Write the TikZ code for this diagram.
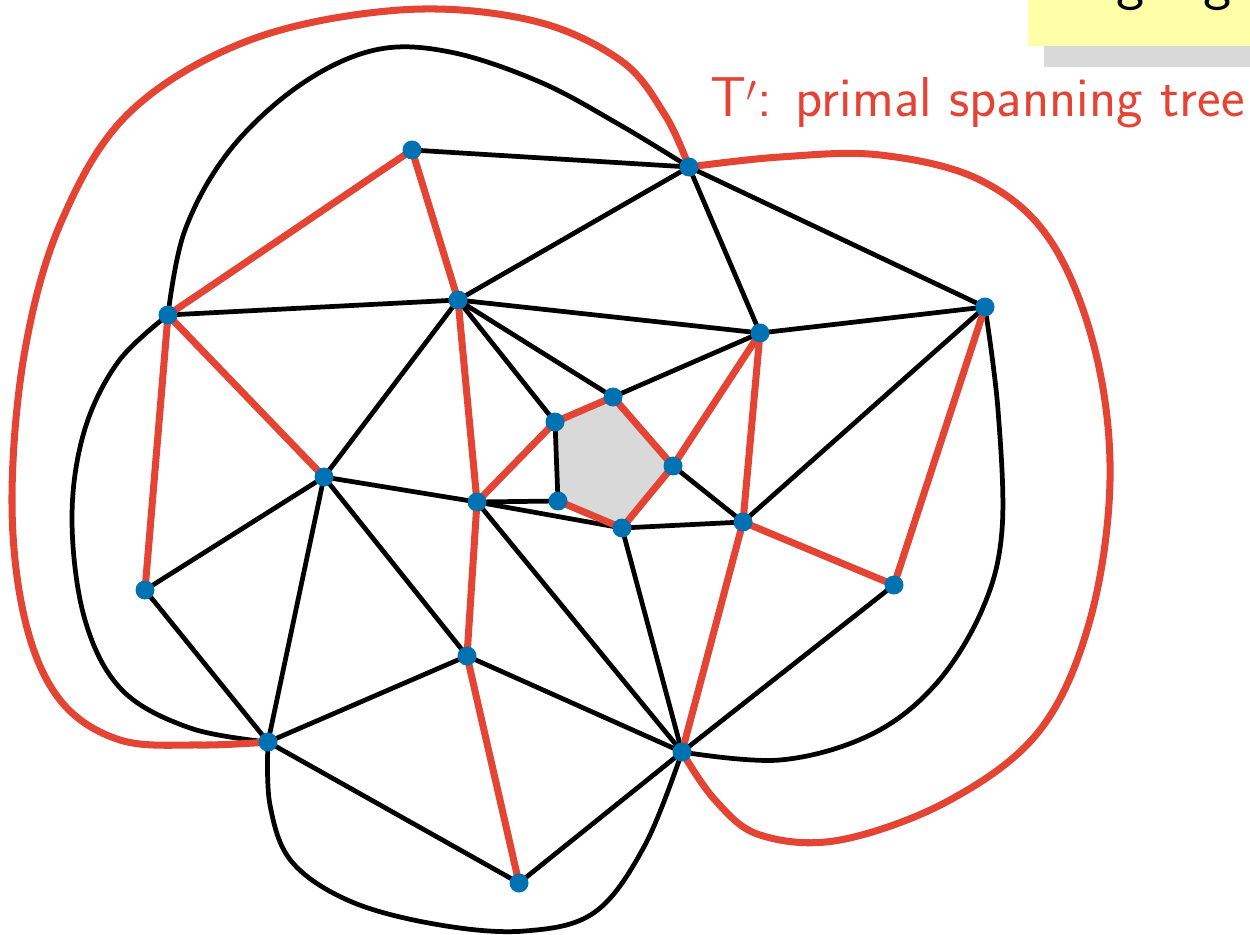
\documentclass[tikz,border=0pt]{standalone}
\definecolor{tred}{RGB}{228,68,52}
\definecolor{vblue}{RGB}{0,114,178}
\definecolor{facegray}{RGB}{217,217,217}
\definecolor{noteyellow}{RGB}{255,255,168}
\begin{document}
\begin{tikzpicture}[x=0.02cm,y=-0.02cm,
  vtx/.style={circle,fill=vblue,inner sep=0pt,minimum size=0.38cm},
  edge/.style={black,line width=2.7pt},
  tree/.style={tred,line width=4pt},
  pt/.style={coordinate}]
\useasboundingbox (0,0) rectangle (1250,935);
% note box (cropped)
\fill[facegray] (1044,40) rectangle (1250,67);
\fill[noteyellow] (1028,-20) rectangle (1250,46);
\begin{scope}
\clip (1028,0) rectangle (1250,46);
\node[anchor=south,inner sep=0pt,font=\sffamily\fontsize{34}{38}\selectfont] (gA) at (1131,11) {g};
\node[anchor=south,inner sep=0pt,font=\sffamily\fontsize{34}{38}\selectfont] (gB) at (1218,11) {g};
\end{scope}
% vertices (positions)
\path
 (412,150) coordinate (vA)
 (689,167) coordinate (vB)
 (168,315) coordinate (vC)
 (458,300) coordinate (vD)
 (760,333) coordinate (vE)
 (985,307) coordinate (vF)
 (613,397) coordinate (vG)
 (555,422) coordinate (vH)
 (673,466) coordinate (vI)
 (324,477) coordinate (vJ)
 (477,502) coordinate (vK)
 (558,501) coordinate (vL)
 (622,528) coordinate (vM)
 (743,522) coordinate (vN)
 (145,590) coordinate (vO)
 (894,585) coordinate (vP)
 (467,656) coordinate (vQ)
 (268,742) coordinate (vR)
 (682,752) coordinate (vS)
 (519,883) coordinate (vT);
% shaded face
\fill[facegray] (vH) -- (vG) -- (vI) -- (vM) -- (vL) -- cycle;
% black edges
\draw[edge] (vA) -- (vB);
\draw[edge] (vB) -- (vD);
\draw[edge] (vB) -- (vE);
\draw[edge] (vB) -- (vF);
\draw[edge] (vC) -- (vD);
\draw[edge] (vD) -- (vE);
\draw[edge] (vE) -- (vF);
\draw[edge] (vD) -- (vG);
\draw[edge] (vD) -- (vH);
\draw[edge] (vG) -- (vE);
\draw[edge] (vD) -- (vJ);
\draw[edge] (vJ) -- (vK);
\draw[edge] (vK) -- (vL);
\draw[edge] (vH) -- (vL);
\draw[edge] (vK) -- (vM);
\draw[edge] (vK) -- (vS);
\draw[edge] (vJ) -- (vQ);
\draw[edge] (vJ) -- (vR);
\draw[edge] (vJ) -- (vO);
\draw[edge] (vO) -- (vR);
\draw[edge] (vR) -- (vQ);
\draw[edge] (vQ) -- (vS);
\draw[edge] (vM) -- (vS);
\draw[edge] (vM) -- (vN);
\draw[edge] (vI) -- (vN);
\draw[edge] (vN) -- (vF);
\draw[edge] (vP) -- (vS);
\draw[edge] (vR) -- (vT);
\draw[edge] (vT) -- (vS);
% black curves
\draw[edge] plot[smooth,tension=0.6] coordinates {(vC) (185,230) (230,150) (300,85) (375,50) (450,52) (540,82) (620,125) (vB)};
\draw[edge] plot[smooth,tension=0.6] coordinates {(vC) (118,362) (84,432) (72,520) (85,620) (122,690) (190,728) (vR)};
\draw[edge] plot[smooth,tension=0.6] coordinates {(vF) (998,410) (1002,530) (982,610) (935,685) (870,735) (780,760) (vS)};
\draw[edge] plot[smooth,tension=0.6] coordinates {(vR) (270,805) (292,862) (352,902) (440,925) (525,931) (595,912) (645,845) (vS)};
% red tree edges
\draw[tree] (vA) -- (vC);
\draw[tree] (vA) -- (vD);
\draw[tree] (vC) -- (vO);
\draw[tree] (vC) -- (vJ);
\draw[tree] (vD) -- (vK);
\draw[tree] (vK) -- (vQ);
\draw[tree] (vQ) -- (vT);
\draw[tree] (vK) -- (vH);
\draw[tree] (vH) -- (vG);
\draw[tree] (vG) -- (vI);
\draw[tree] (vI) -- (vM);
\draw[tree] (vM) -- (vL);
\draw[tree] (vI) -- (vE);
\draw[tree] (vE) -- (vN);
\draw[tree] (vN) -- (vS);
\draw[tree] (vN) -- (vP);
\draw[tree] (vF) -- (vP);
\draw[tree] plot[smooth,tension=0.6] coordinates {(vR) (200,745) (120,740) (60,700) (25,620) (12,500) (25,350) (62,220) (130,112) (250,40) (400,10) (530,20) (620,60) (665,115) (vB)};
\draw[tree] plot[smooth,tension=0.6] coordinates {(vB) (780,157) (880,155) (980,180) (1050,240) (1095,350) (1110,480) (1090,620) (1040,730) (950,800) (840,840) (760,835) (715,800) (vS)};
% vertex dots
\foreach \v in {vA,vB,vC,vD,vE,vF,vG,vH,vI,vJ,vK,vL,vM,vN,vO,vP,vQ,vR,vS,vT}
  \node[vtx] (dot-\v) at (\v) {};
% label
\node[anchor=base east,inner sep=0pt,text=tred,font=\sffamily\fontsize{32}{36}\selectfont] (lab) at (1245,117) {T$'$: primal spanning tree};
\end{tikzpicture}
\end{document}
